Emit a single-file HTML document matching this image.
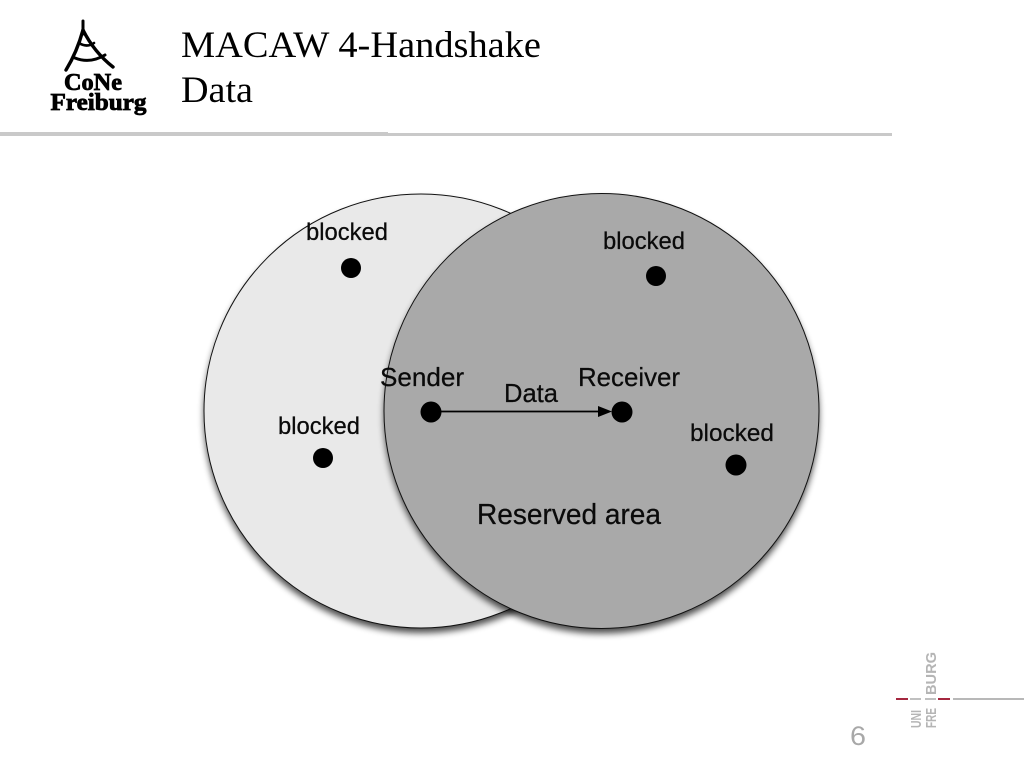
<!DOCTYPE html>
<html>
<head>
<meta charset="utf-8">
<style>
html,body{margin:0;padding:0;background:#fff;width:1024px;height:768px;overflow:hidden}
svg{display:block}
</style>
</head>
<body>
<svg width="1024" height="768" viewBox="0 0 1024 768" xmlns="http://www.w3.org/2000/svg">
<defs>
<filter id="s" x="-10%" y="-10%" width="120%" height="120%">
<feGaussianBlur stdDeviation="3.5"/>
</filter>
</defs>
<rect width="1024" height="768" fill="#fff"/>

<!-- logo -->
<g fill="none" stroke="#000" stroke-linecap="round">
<path d="M83 21V34" stroke-width="3"/>
<path d="M83 30Q77 52 66 70" stroke-width="3.4"/>
<path d="M83 30Q94 52 113 67" stroke-width="3.4"/>
<path d="M79 43Q87 48 94 43" stroke-width="2.6"/>
<path d="M75 58Q90 64 105 55" stroke-width="3"/>
</g>
<text x="93" y="90" text-anchor="middle" font-family="'Liberation Serif',serif" font-weight="bold" font-size="24" stroke="#000" stroke-width=".8" textLength="58" lengthAdjust="spacingAndGlyphs">CoNe</text>
<text x="98.500" y="110" text-anchor="middle" font-family="'Liberation Serif',serif" font-weight="bold" font-size="24" stroke="#000" stroke-width=".8" textLength="96" lengthAdjust="spacingAndGlyphs">Freiburg</text>

<!-- title -->
<text x="181" y="57" font-family="'Liberation Serif',serif" font-size="37" fill="#000" textLength="360" lengthAdjust="spacingAndGlyphs">MACAW 4-Handshake</text>
<text x="181" y="102" font-family="'Liberation Serif',serif" font-size="37" fill="#000" textLength="72" lengthAdjust="spacingAndGlyphs">Data</text>
<rect x="0" y="132" width="388" height="4" fill="#c9c9c9"/>
<rect x="388" y="133" width="504" height="3" fill="#c9c9c9"/>

<!-- left circle -->
<circle cx="421" cy="416" r="217" fill="#000" opacity=".7" filter="url(#s)"/>
<circle cx="421" cy="411" r="217" fill="#e9e9e9" stroke="#111" stroke-width="1"/>
<!-- right circle -->
<circle cx="601.500" cy="416" r="217.500" fill="#000" opacity=".7" filter="url(#s)"/>
<circle cx="601.500" cy="411" r="217.500" fill="#a9a9a9" stroke="#111" stroke-width="1"/>

<!-- dots -->
<g fill="#000">
<circle cx="351" cy="268" r="10"/>
<circle cx="656" cy="276" r="10"/>
<circle cx="323" cy="458" r="10"/>
<circle cx="431" cy="412" r="10.500"/>
<circle cx="622" cy="412" r="10.500"/>
<circle cx="736" cy="465" r="10.500"/>
</g>

<!-- arrow -->
<line x1="440" y1="411.500" x2="600" y2="411.500" stroke="#000" stroke-width="1.800"/>
<polygon points="598,406 612,411.500 598,417" fill="#000"/>

<!-- labels -->
<g font-family="'Liberation Sans',sans-serif" fill="#0a0a0a" stroke="#0a0a0a" stroke-width=".25">
<text x="306" y="240" font-size="24" textLength="82" lengthAdjust="spacingAndGlyphs">blocked</text>
<text x="603" y="249" font-size="24" textLength="82" lengthAdjust="spacingAndGlyphs">blocked</text>
<text x="278" y="434" font-size="24" textLength="82" lengthAdjust="spacingAndGlyphs">blocked</text>
<text x="690" y="441" font-size="24" textLength="84" lengthAdjust="spacingAndGlyphs">blocked</text>
<text x="380" y="386" font-size="26" textLength="84" lengthAdjust="spacingAndGlyphs">Sender</text>
<text x="578" y="386" font-size="26" textLength="102" lengthAdjust="spacingAndGlyphs">Receiver</text>
<text x="504" y="402" font-size="26" textLength="54" lengthAdjust="spacingAndGlyphs">Data</text>
<text x="477" y="524" font-size="29" textLength="184" lengthAdjust="spacingAndGlyphs">Reserved area</text>
</g>

<!-- footer -->
<text x="850" y="745" font-family="'Liberation Sans',sans-serif" font-size="27" fill="#a8a8a8" textLength="16" lengthAdjust="spacingAndGlyphs">6</text>
<rect x="896" y="698" width="12" height="2" fill="#a5273f"/>
<rect x="910" y="698" width="11" height="2" fill="#c0c0c0"/>
<rect x="925" y="698" width="11" height="2" fill="#c0c0c0"/>
<rect x="938" y="698" width="12" height="2" fill="#a5273f"/>
<rect x="953" y="698" width="71" height="2" fill="#b8b8b8"/>
<g font-family="'Liberation Sans',sans-serif" font-weight="bold" fill="#b5b5b5">
<text transform="translate(921,728) rotate(-90)" font-size="15" textLength="18" lengthAdjust="spacingAndGlyphs">UNI</text>
<text transform="translate(936,728) rotate(-90)" font-size="15" textLength="20" lengthAdjust="spacingAndGlyphs">FRE</text>
<text transform="translate(936,695) rotate(-90)" font-size="15" textLength="43" lengthAdjust="spacingAndGlyphs">BURG</text>
</g>
</svg>
</body>
</html>
